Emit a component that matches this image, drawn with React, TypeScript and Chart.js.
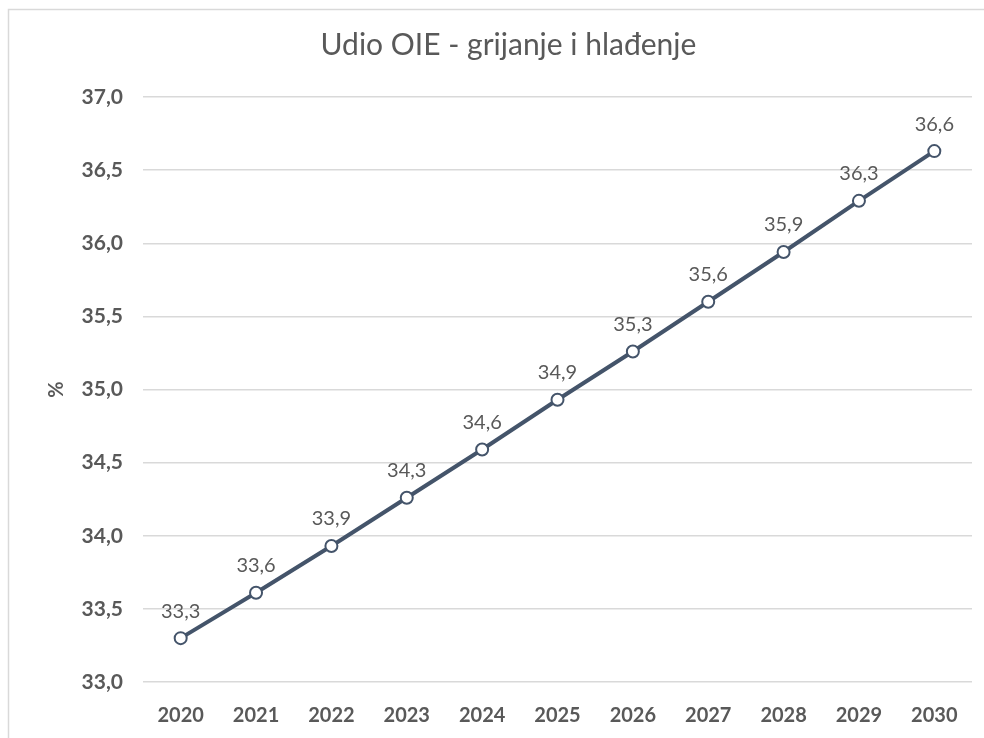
import React, { useEffect, useRef } from "react";
import { Chart, registerables } from "chart.js";

Chart.register(...registerables);

const TITLE = "Udio OIE - grijanje i hlađenje";
const Y_TITLE = "%";
const YEARS = ["2020", "2021", "2022", "2023", "2024", "2025", "2026", "2027", "2028", "2029", "2030"];
const SHARE = [33.3, 33.61, 33.93, 34.26, 34.59, 34.93, 35.26, 35.6, 35.94, 36.29, 36.63];
const SHARE_LABELS = ["33,3", "33,6", "33,9", "34,3", "34,6", "34,9", "35,3", "35,6", "35,9", "36,3", "36,6"];

const TEXT = "#595959";
const LINE = "#44546a";
const GRID = "#d9d9d9";
const FONT = "Lato, 'Open Sans', sans-serif";

const frame = {
  id: "frame",
  beforeDraw(chart: any) {
    const c = chart.ctx;
    c.save();
    c.fillStyle = "#ffffff";
    c.fillRect(0, 0, chart.width, chart.height);
    c.strokeStyle = GRID;
    c.lineWidth = 1.5;
    c.strokeRect(8.5, 9.5, 983, 800);
    c.restore();
  },
};

const pointLabels = {
  id: "pointLabels",
  afterDatasetsDraw(chart: any) {
    const c = chart.ctx;
    const meta = chart.getDatasetMeta(0);
    c.save();
    c.font = `400 20px ${FONT}`;
    c.fillStyle = TEXT;
    c.textAlign = "center";
    c.textBaseline = "middle";
    meta.data.forEach((pt: any, i: number) => {
      c.fillText(SHARE_LABELS[i], pt.x, pt.y - 27);
    });
    c.restore();
  },
};

export default function App() {
  const ref = useRef<HTMLCanvasElement>(null);
  useEffect(() => {
    if (!ref.current) return;
    const chart = new Chart(ref.current, {
      type: "line",
      data: {
        labels: YEARS,
        datasets: [
          {
            data: SHARE,
            borderColor: LINE,
            borderWidth: 4,
            pointBackgroundColor: "#ffffff",
            pointBorderColor: LINE,
            pointBorderWidth: 2,
            pointRadius: 6,
            tension: 0,
          },
        ],
      },
      options: {
        animation: false,
        responsive: false,
        layout: { padding: { left: 45, right: 28, top: 27, bottom: 10 } },
        plugins: {
          legend: { display: false },
          tooltip: { enabled: false },
          title: {
            display: true,
            text: TITLE,
            color: TEXT,
            font: { family: FONT, size: 30, weight: "normal" as any },
            padding: { top: 0, bottom: 34 },
          },
        },
        scales: {
          x: {
            offset: true,
            afterFit(scale: any) {
              scale.height = 46;
            },
            grid: { display: false, drawTicks: false },
            border: { display: false },
            ticks: {
              color: TEXT,
              padding: 22,
              font: { family: FONT, size: 20, weight: "bold" as any },
            },
          },
          y: {
            min: 33,
            max: 37,
            afterFit(scale: any) {
              scale.width = 98;
            },
            grid: { color: GRID, lineWidth: 1.5, drawTicks: false },
            border: { display: false },
            ticks: {
              stepSize: 0.5,
              color: TEXT,
              padding: 20,
              font: { family: FONT, size: 21, weight: "bold" as any },
              callback: (v: any) => Number(v).toFixed(1).replace(".", ","),
            },
            title: {
              display: true,
              text: Y_TITLE,
              color: TEXT,
              padding: 0,
              font: { family: FONT, size: 20, weight: "bold" as any },
            },
          },
        },
      },
      plugins: [frame, pointLabels],
    });
    return () => chart.destroy();
  }, []);
  return (
    <div style={{ position: "fixed", left: 0, top: 0, width: 984, height: 738, overflow: "hidden", background: "#fff" }}>
      <canvas ref={ref} width={1000} height={738} style={{ display: "block", width: 1000, height: 738 }} />
    </div>
  );
}
